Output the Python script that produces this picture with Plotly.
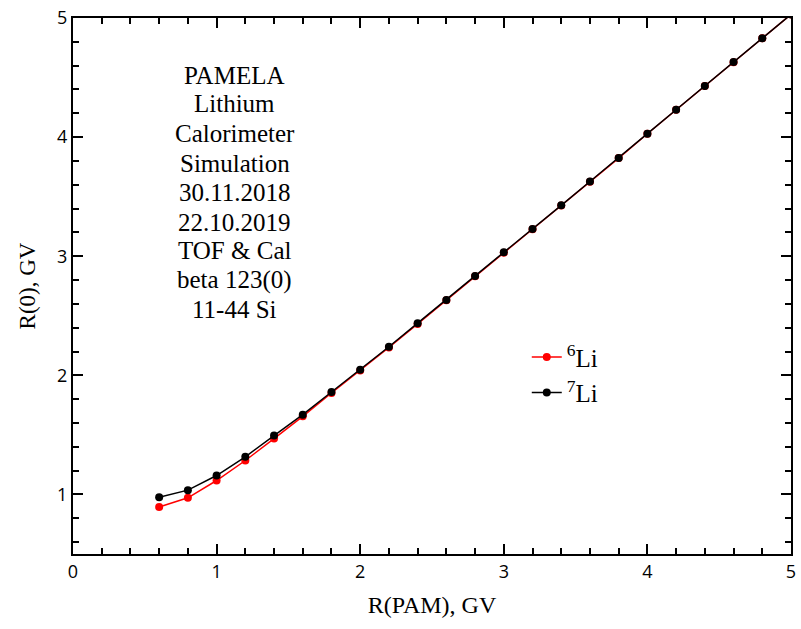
import plotly.graph_objects as go

x_pam = [0.6, 0.8, 1.0, 1.2, 1.4, 1.6, 1.8, 2.0, 2.2, 2.4, 2.6, 2.8, 3.0,
         3.2, 3.4, 3.6, 3.8, 4.0, 4.2, 4.4, 4.6, 4.8, 5.0]
r0_li6 = [0.894, 0.972, 1.117, 1.285, 1.469, 1.656, 1.852, 2.040, 2.234, 2.432,
          2.630, 2.832, 3.030, 3.226, 3.426, 3.626, 3.824, 4.028, 4.229, 4.429,
          4.629, 4.829, 5.030]
r0_li7 = [0.977, 1.036, 1.159, 1.316, 1.494, 1.670, 1.860, 2.047, 2.240, 2.438,
          2.633, 2.835, 3.033, 3.228, 3.427, 3.627, 3.825, 4.029, 4.230, 4.430,
          4.630, 4.830, 5.030]

info_lines = ["PAMELA", "Lithium", "Calorimeter", "Simulation", "30.11.2018",
              "22.10.2019", "TOF &amp; Cal", "beta 123(0)", "11-44 Si"]

serif = "Liberation Serif, Times New Roman, serif"

fig = go.Figure()
fig.add_trace(go.Scatter(
    x=x_pam, y=r0_li6, mode="lines+markers", name="<sup>6</sup>Li",
    line=dict(color="#ff0000", width=1.5),
    marker=dict(color="#ff0000", size=8),
))
fig.add_trace(go.Scatter(
    x=x_pam, y=r0_li7, mode="lines+markers", name="<sup>7</sup>Li",
    line=dict(color="#000000", width=1.5),
    marker=dict(color="#000000", size=8),
))

fig.update_xaxes(range=[0, 5], dtick=1, showline=True, linecolor="black", linewidth=2,
                 mirror="allticks", ticks="inside", ticklen=10, tickwidth=2, tickcolor="black",
                 minor=dict(ticks="inside", ticklen=6, tickwidth=2, tickcolor="black", dtick=0.2))
fig.update_yaxes(range=[0.5, 5], dtick=1, showline=True, linecolor="black", linewidth=2,
                 mirror="allticks", ticks="inside", ticklen=10, tickwidth=2, tickcolor="black",
                 minor=dict(ticks="inside", ticklen=6, tickwidth=2, tickcolor="black", dtick=0.2))

fig.update_xaxes(tickfont=dict(size=18, color="black"),
                 title=dict(text="R(PAM), GV", font=dict(family=serif, size=24, color="black")))
fig.update_yaxes(tickfont=dict(size=18, color="black"),
                 title=dict(text="R(0), GV", font=dict(family=serif, size=23, color="black")))

plot_top, plot_bottom = 18, 554
line_centers_px = [75, 104, 133, 163, 192, 222, 251, 280, 309]
for txt, py in zip(info_lines, line_centers_px):
    fig.add_annotation(
        x=0.225, y=(plot_bottom - py) / (plot_bottom - plot_top),
        xref="paper", yref="paper", xanchor="center", yanchor="middle",
        text=txt, showarrow=False,
        font=dict(family=serif, size=25, color="black"),
    )

fig.update_layout(
    width=801, height=629,
    margin=dict(l=73, r=5, t=18, b=75),
    plot_bgcolor="white",
    legend=dict(x=0.632, y=0.41, xanchor="left", yanchor="top",
                bgcolor="rgba(0,0,0,0)", font=dict(family=serif, size=25, color="black")),
)

fig.write_html("out.html")
